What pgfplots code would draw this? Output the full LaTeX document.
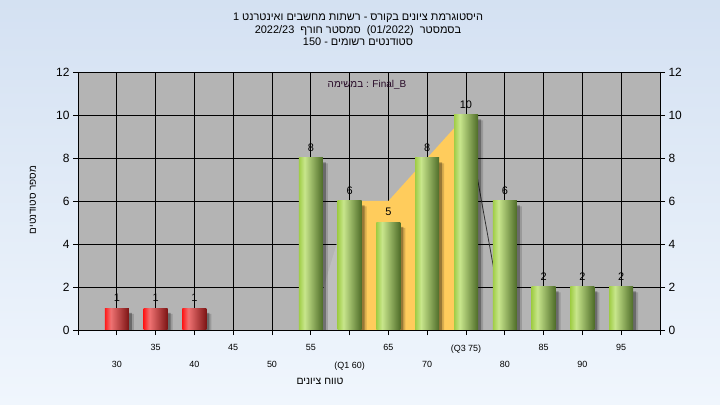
\documentclass[border=0pt]{standalone}
\usepackage{fontspec}
\setmainfont{Liberation Sans}
\newfontfamily\heb[Script=Hebrew]{Liberation Sans}
\usepackage{pgfplots}
\pgfplotsset{compat=1.18}
\usepackage{pgfplotstable}
\TeXXeTstate=1

\definecolor{plotbg}{RGB}{180,180,180}
\definecolor{bgtop}{RGB}{212,225,242}
\definecolor{bgbot}{RGB}{240,246,253}
\definecolor{orangefill}{RGB}{255,204,92}
\definecolor{lightgray2}{RGB}{190,190,190}
\definecolor{darkline}{RGB}{50,50,50}
\definecolor{redA}{RGB}{255,25,25}
\definecolor{redB}{RGB}{240,115,115}
\definecolor{redC}{RGB}{125,20,20}
\definecolor{greenA}{RGB}{160,205,70}
\definecolor{greenB}{RGB}{200,230,140}
\definecolor{greenC}{RGB}{78,108,40}
\definecolor{labtext}{RGB}{40,10,40}

\pgfdeclarehorizontalshading{redbar}{100bp}{color(0bp)=(redA); color(25bp)=(redA); color(37bp)=(redB); color(75bp)=(redC); color(100bp)=(redC)}
\pgfdeclarehorizontalshading{greenbar}{100bp}{color(0bp)=(greenA); color(25bp)=(greenA); color(37bp)=(greenB); color(75bp)=(greenC); color(100bp)=(greenC)}

\pgfplotstableread{
x y
30 1
35 1
40 1
}\redtable

\pgfplotstableread{
x y
55 8
60 6
65 5
70 8
75 10
80 6
85 2
90 2
95 2
}\greentable

\begin{document}
\begin{tikzpicture}
\path[use as bounding box] (0,0) rectangle (720bp,405bp);
\shade[top color=bgtop, bottom color=bgbot] (0,0) rectangle (720bp,405bp);
\begin{axis}[
  at={(78bp,75bp)}, anchor=south west,
  scale only axis, width=582bp, height=258bp,
  xmin=25, xmax=100, ymin=0, ymax=12,
  axis background/.style={fill=plotbg},
  xtick={25,30,...,100},
  xticklabels={,,35,,45,,55,,65,,{(Q3 75)},,85,,95,},
  extra x ticks={30,40,50,60,70,80,90},
  extra x tick labels={30,40,50,{(Q1 60)},70,80,90},
  extra x tick style={grid=none, tick label style={yshift=-17bp}},
  ytick={0,2,...,12},
  xtick pos=bottom, ytick pos=left,
  tick align=outside,
  major tick length=5bp,
  grid=major,
  major grid style={black, line width=0.8bp},
  axis line style={black, line width=0.8bp},
  tick style={black, line width=0.8bp},
  x tick label style={font=\fontsize{9}{10}\selectfont, yshift=-6bp},
  y tick label style={font=\fontsize{12}{13}\selectfont},
  /pgf/number format/assume math mode=true,
]
\addplot[fill=lightgray2, draw=none] coordinates {(55,0) (60,6) (60,0)} \closedcycle;
\addplot[fill=orangefill, draw=none] coordinates {(60,6) (65,6) (70,8) (75,10)} \closedcycle;
\addplot[draw=darkline, line width=0.8bp] coordinates {(75,10) (80,0)};
\addplot[ybar, bar width=24bp, bar shift=5bp, draw=none, fill=black, fill opacity=0.15] table[x=x, y expr=\thisrow{y}-0.25] {\redtable};
\addplot[ybar, bar width=24bp, bar shift=5bp, draw=none, fill=black, fill opacity=0.15] table[x=x, y expr=\thisrow{y}-0.25] {\greentable};
\addplot[ybar, bar width=24bp, bar shift=3bp, draw=none, fill=black, fill opacity=0.3] table[x=x, y expr=\thisrow{y}-0.2] {\redtable};
\addplot[ybar, bar width=24bp, bar shift=3bp, draw=none, fill=black, fill opacity=0.3] table[x=x, y expr=\thisrow{y}-0.2] {\greentable};
\pgfplotsinvokeforeach{30,35,40}{
\addplot[ybar, bar width=24bp, bar shift=0pt, draw=none, shading=redbar,
  restrict x to domain=#1:#1,
  nodes near coords, nodes near coords style={font=\fontsize{11}{12}\selectfont, text=black, yshift=3bp}] table[x=x, y=y] {\redtable};
}
\pgfplotsinvokeforeach{55,60,65,70,75,80,85,90,95}{
\addplot[ybar, bar width=24bp, bar shift=0pt, draw=none, shading=greenbar,
  restrict x to domain=#1:#1,
  nodes near coords, nodes near coords style={font=\fontsize{11}{12}\selectfont, text=black, yshift=3bp}] table[x=x, y=y] {\greentable};
}
\end{axis}
\begin{axis}[
  at={(78bp,75bp)}, anchor=south west,
  scale only axis, width=582bp, height=258bp,
  xmin=25, xmax=100, ymin=0, ymax=12,
  hide x axis,
  ytick={0,2,...,12},
  ytick pos=right, yticklabel pos=right,
  tick align=outside,
  major tick length=5bp,
  axis line style={black, line width=0.8bp},
  tick style={black, line width=0.8bp},
  y tick label style={font=\fontsize{12}{13}\selectfont},
  /pgf/number format/assume math mode=true,
]
\end{axis}
\node[font=\heb\fontsize{11}{12.5}\selectfont, align=center] at (358bp,375.5bp) {\beginR היסטוגרמת ציונים בקורס - רשתות מחשבים ואינטרנט 1\endR\\\beginR בסמסטר \ \beginL(01/2022)\endL{} \ סמסטר חורף \ \beginL 2022/23\endL\endR\\\beginR סטודנטים רשומים - 150\endR};
\node[font=\heb\fontsize{10}{12}\selectfont, text=labtext] at (367bp,320bp) {במשימה : Final\_B};
\node[rotate=90, font=\heb\fontsize{10}{12}\selectfont] at (33bp,205bp) {\beginR מספר סטודנטים\endR};
\node[font=\heb\fontsize{10.5}{12}\selectfont] at (320bp,24bp) {\beginR טווח ציונים\endR};
\end{tikzpicture}
\end{document}
